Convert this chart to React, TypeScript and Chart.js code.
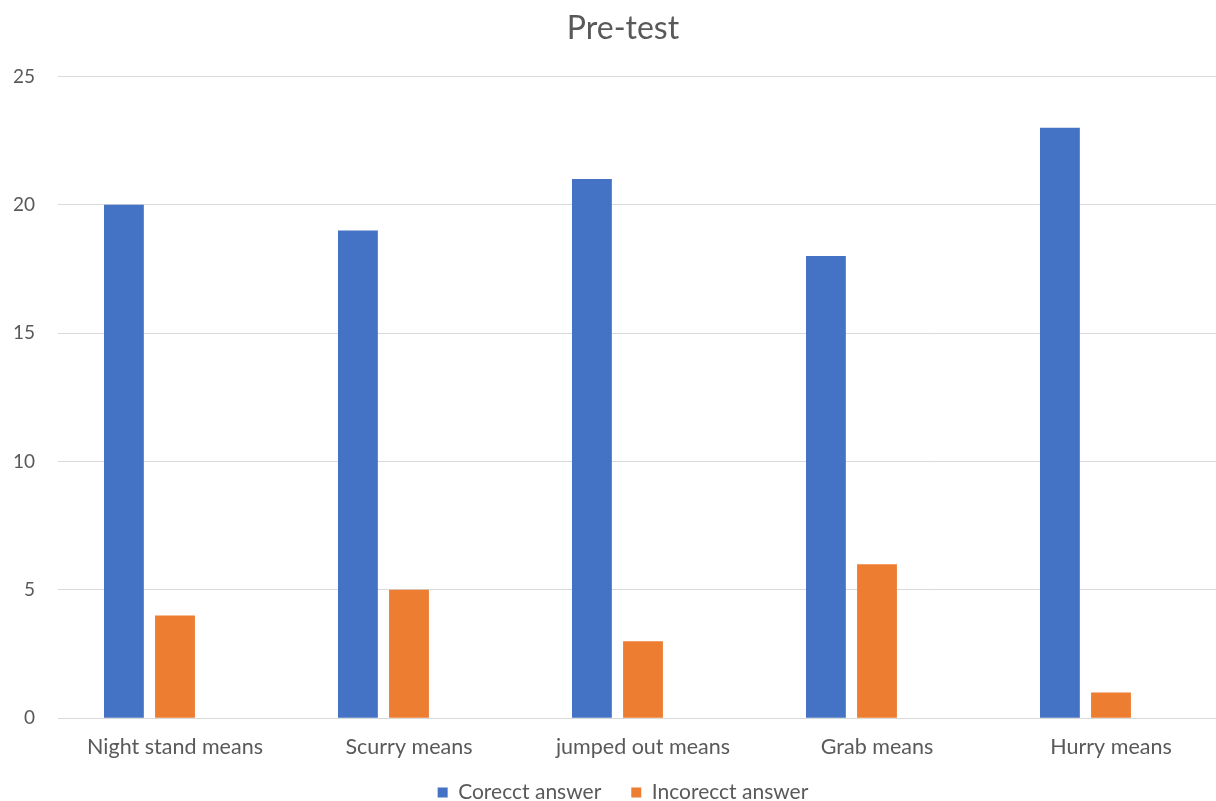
import React, { useEffect, useRef } from "react";
import { Chart, registerables } from "chart.js";

Chart.register(...registerables);

const categories = ["Night stand means", "Scurry means", "jumped out means", "Grab means", "Hurry means"];
const correctAnswers = [20, 19, 21, 18, 23];
const incorrectAnswers = [4, 5, 3, 6, 1];
const spareSeries = [null, null, null, null, null];
const yTicks = [0, 5, 10, 15, 20, 25];

const FONT = "Lato, 'Open Sans', sans-serif";
const TEXT = "#595959";
const GRID = "#d9d9d9";
const CANVAS_W = 1246;
const CANVAS_H = 837;
const LEGEND_LIFT = 24;

// Pull the legend row up closer to the category labels.
const legendLift = {
  id: "legendLift",
  afterLayout(chart: Chart) {
    const lg = chart.legend;
    if (lg) {
      lg.top -= LEGEND_LIFT;
      lg.bottom -= LEGEND_LIFT;
    }
  },
};

export default function App() {
  const canvasRef = useRef<HTMLCanvasElement | null>(null);

  useEffect(() => {
    document.body.style.margin = "0";
    const ctx = canvasRef.current;
    if (!ctx) return;
    const chart = new Chart(ctx, {
      type: "bar",
      data: {
        labels: categories,
        datasets: [
          { label: "Corecct answer", data: correctAnswers, backgroundColor: "#4472C4" },
          { label: "Incorecct answer", data: incorrectAnswers, backgroundColor: "#ED7D31" },
          { label: "", data: spareSeries, backgroundColor: "#A5A5A5" },
        ],
      },
      plugins: [legendLift],
      options: {
        animation: false,
        responsive: false,
        maintainAspectRatio: false,
        datasets: { bar: { categoryPercentage: 0.655, barPercentage: 0.78 } },
        layout: { padding: { left: 0, right: 0, top: 0, bottom: 0 } },
        plugins: {
          title: {
            display: true,
            text: "Pre-test",
            color: TEXT,
            font: { family: FONT, size: 32, weight: "normal" },
            padding: { top: 9, bottom: 29 },
          },
          legend: {
            position: "bottom",
            labels: {
              color: TEXT,
              font: { family: FONT, size: 21 },
              boxWidth: 10,
              boxHeight: 10,
              padding: 30,
              filter: (item) => item.text !== "",
            },
          },
          tooltip: { enabled: false },
        },
        scales: {
          x: {
            grid: { display: false, drawTicks: false },
            border: { display: true, color: GRID, width: 1 },
            ticks: { color: TEXT, font: { family: FONT, size: 21.5 }, padding: 16, maxRotation: 0 },
          },
          y: {
            min: 0,
            max: 25,
            afterFit: (scale) => { scale.width = 58; },
            afterBuildTicks: (scale) => { scale.ticks = yTicks.map((v) => ({ value: v })); },
            grid: { color: GRID, drawTicks: false, lineWidth: 1 },
            border: { display: false },
            ticks: { color: TEXT, font: { family: FONT, size: 19 }, padding: 23 },
          },
          // empty right-hand strip beside the plot
          yRight: {
            position: "right",
            display: true,
            afterFit: (scale) => { scale.width = 18; },
            grid: { display: false, drawTicks: false },
            border: { display: false },
            ticks: { display: false },
          },
        },
      },
    });
    return () => chart.destroy();
  }, []);

  return (
    <div style={{ position: "fixed", left: 0, top: 0, width: 1216, height: 801, overflow: "hidden", background: "#fff" }}>
      <canvas ref={canvasRef} width={CANVAS_W} height={CANVAS_H} style={{ display: "block" }} />
    </div>
  );
}
